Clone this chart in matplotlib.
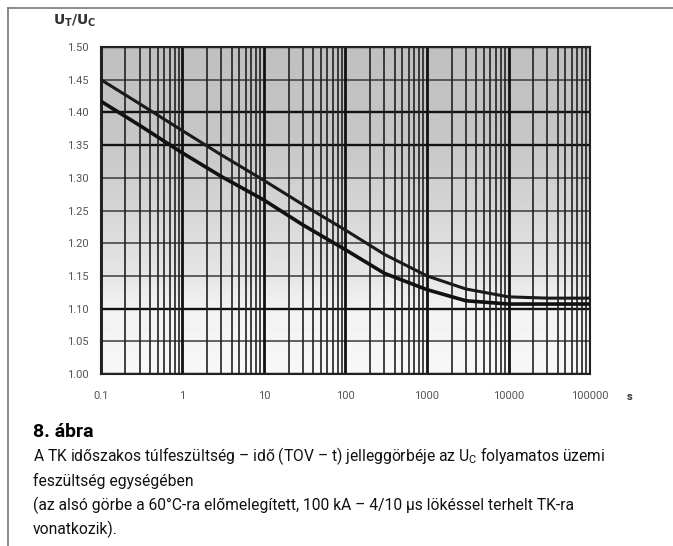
import matplotlib.pyplot as plt
import matplotlib.ticker as mticker
import numpy as np
from matplotlib.lines import Line2D

# Time axis (s) and the two TOV curves
t = [0.1, 0.3, 1, 3, 10, 30, 100, 300, 1000, 3000, 10000, 30000, 100000]
upper = [1.450, 1.413, 1.372, 1.335, 1.296, 1.259, 1.220, 1.183, 1.150, 1.130, 1.118, 1.116, 1.116]
lower = [1.417, 1.380, 1.338, 1.302, 1.266, 1.228, 1.190, 1.154, 1.129, 1.112, 1.107, 1.107, 1.107]

x_ticks = [0.1, 1, 10, 100, 1000, 10000, 100000]
x_labels = ["0.1", "1", "10", "100", "1000", "10000", "100000"]
y_ticks = [1.00, 1.05, 1.10, 1.15, 1.20, 1.25, 1.30, 1.35, 1.40, 1.45, 1.50]
y_heavy = [1.00, 1.10, 1.35, 1.40, 1.50]

caption_title = "8. ábra"
caption_lines = [
    "A TK időszakos túlfeszültség – idő (TOV – t) jelleggörbéje az U$_\\mathrm{C}$ folyamatos üzemi",
    "feszültség egységében",
    "(az alsó görbe a 60°C-ra előmelegített, 100 kA – 4/10 µs lökéssel terhelt TK-ra",
    "vonatkozik).",
]

plt.rcParams['font.family'] = ['Roboto', 'DejaVu Sans']
plt.rcParams['mathtext.fontset'] = 'custom'
plt.rcParams['mathtext.rm'] = 'Roboto'

fig = plt.figure(figsize=(6.73, 5.46), dpi=100)
ax = fig.add_axes([0.150, 0.315, 0.7267, 0.5989])

# scanned grey shading, darker at the top, near white below 1.10
pos = np.linspace(0, 1, 300)
shade = np.interp(pos, [0, 0.2, 0.3, 0.5, 0.7, 1.0], [0.97, 0.95, 0.90, 0.84, 0.78, 0.75])
ax.imshow(shade.reshape(-1, 1), cmap='gray', vmin=0, vmax=1, aspect='auto', origin='lower',
          extent=[0, 1, 0, 1], transform=ax.transAxes, zorder=0)

ax.set_xscale('log')
ax.set_xlim(0.1, 100000)
ax.set_ylim(1.0, 1.5)

ax.plot(t, upper, color='#1a1a1a', lw=2.2, zorder=3)
ax.plot(t, lower, color='#111111', lw=2.6, zorder=3)

ax.set_xticks(x_ticks)
ax.set_xticklabels(x_labels)
ax.xaxis.set_minor_locator(mticker.LogLocator(base=10, subs=range(2, 10)))
ax.xaxis.set_minor_formatter(mticker.NullFormatter())
ax.set_yticks(y_ticks)
ax.set_yticklabels([f"{v:.2f}" for v in y_ticks])
ax.tick_params(which='both', length=0, labelsize=8, colors='#555555')
ax.tick_params(axis='x', pad=12)
ax.tick_params(axis='y', pad=9)

ax.grid(True, which='major', axis='x', color='#111111', lw=2.0)
ax.grid(True, which='minor', axis='x', color='#222222', lw=1.2)
for v in y_ticks:
    heavy = v in y_heavy
    ax.axhline(v, color='#111111' if heavy else '#3a3a3a', lw=1.7 if heavy else 1.1, zorder=1)
for s in ax.spines.values():
    s.set_color('#222222')
    s.set_linewidth(1.5)

ax.text(-0.01, 1.08, r"$\mathbf{U_T/U_C}$", transform=ax.transAxes,
        ha='right', va='center', fontsize=10, color='#333333')
ax.text(1.08, -0.07, "s", transform=ax.transAxes, ha='center', va='center',
        fontsize=8, color='#333333', fontweight='bold')

# caption
fig.text(33 / 673, 1 - 432 / 546, caption_title, fontsize=14, fontweight='bold',
         va='center', ha='left')
cap = []
for i, line in enumerate(caption_lines):
    cap.append(fig.text(33 / 673, 1 - (456 + 24.5 * i) / 546, line, fontsize=11,
                        va='center', ha='left', color='#111111'))

# shrink the caption so the first line spans the same width as in the scan
r = fig.canvas.get_renderer()
w = cap[0].get_window_extent(renderer=r).width
size = 11 * 572 / w
for c in cap:
    c.set_fontsize(size)

# outer frame of the scan
fig.add_artist(Line2D([8 / 673, 8 / 673], [0, 1 - 8 / 546], color='#777777', lw=1.2))
fig.add_artist(Line2D([8 / 673, 1], [1 - 8 / 546, 1 - 8 / 546], color='#777777', lw=1.2))

fig.savefig("out.png", dpi=100)
